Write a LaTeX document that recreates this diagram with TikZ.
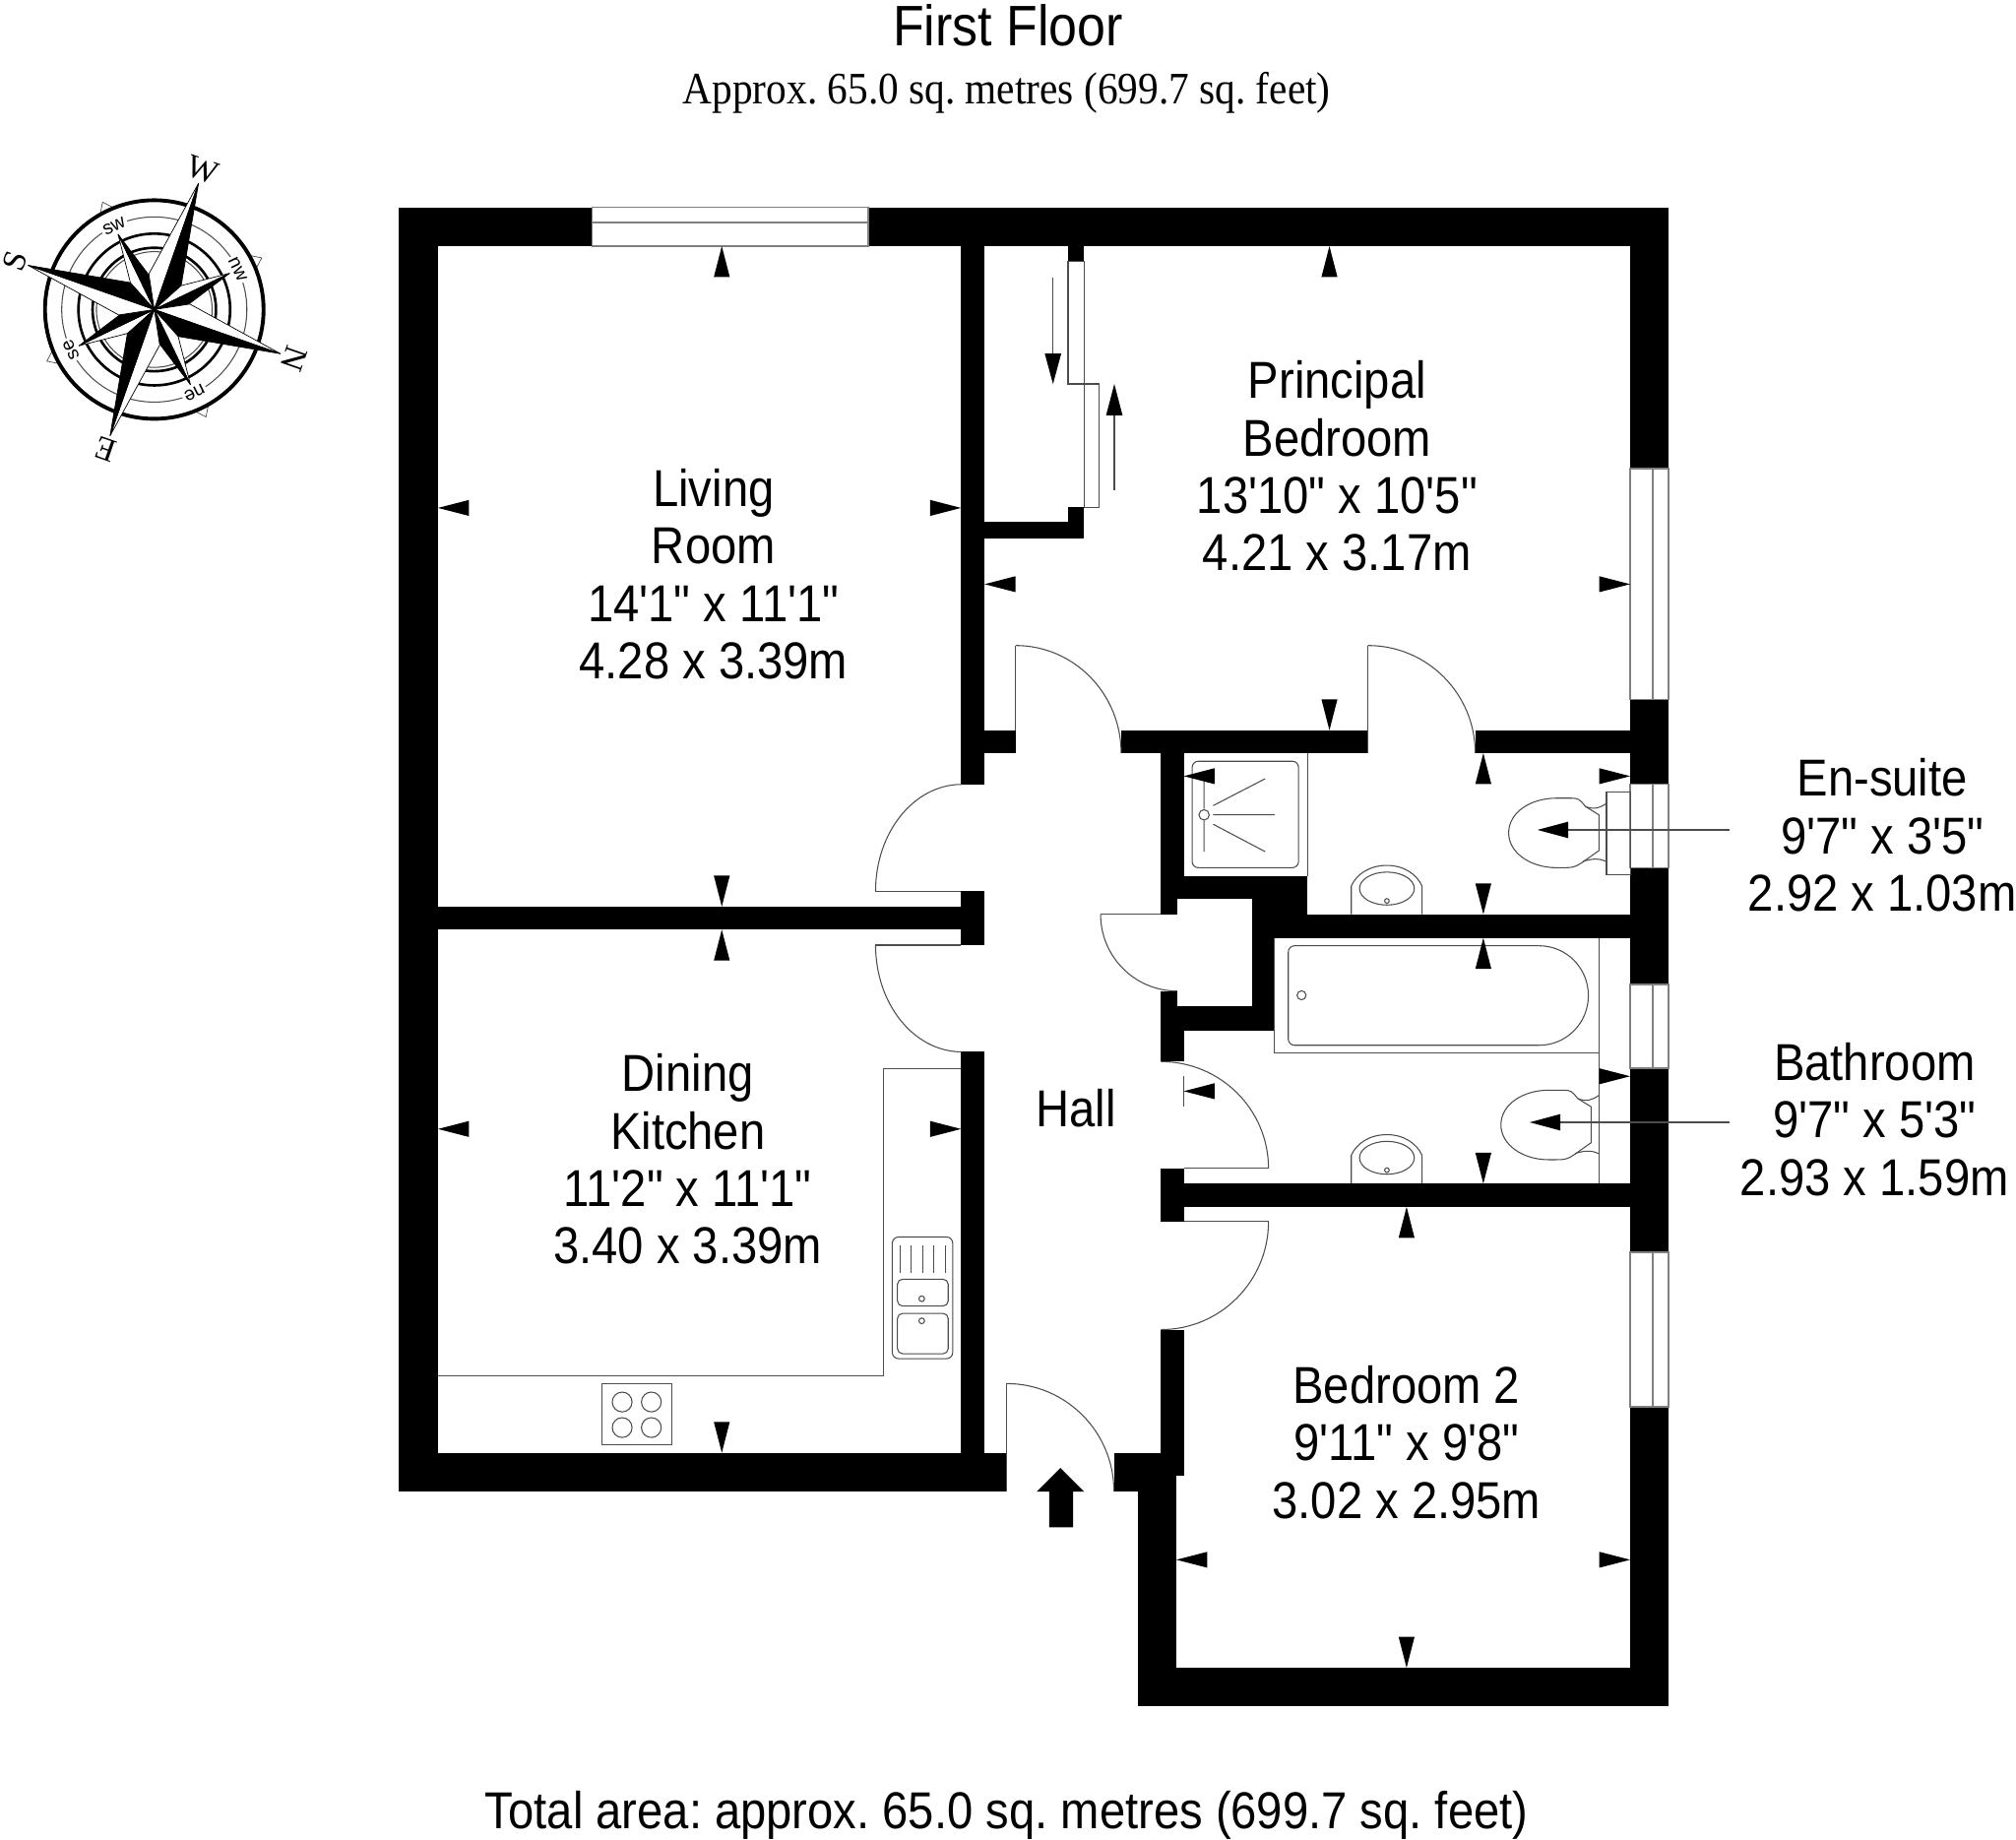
\documentclass[tikz,border=0pt]{standalone}
\usepackage{fontspec}
\newfontfamily\labelfont[FakeStretch=0.895]{Liberation Sans}
\newfontfamily\subfont[FakeStretch=0.905]{Liberation Serif}
\newfontfamily\rosefont{Liberation Serif}
\newfontfamily\rosesmall{Liberation Sans}
\usetikzlibrary{calc}
\tikzset{%
	wall/.style={fill=black},
	thinline/.style={draw=black!70, line width=0.3pt},
	window/.style={draw=black!50, fill=white, line width=0.4pt},
	roomlabel/.style={align=center, inner sep=0pt, font=\frenchspacing\labelfont\fontsize{15}{16.6}\selectfont},
}

\begin{document}
\begin{tikzpicture}[x=0.013061cm, y=-0.013061cm]
	\useasboundingbox (0,0) rectangle (1568,1430.9);

	% Walls
	\foreach \xa/\ya/\xb/\yb in {310/161.3/460.4/191.4, 675.3/161.3/1297.8/191.4, 310/161.3/340.7/1159.9,
		310/1129.8/783/1159.9, 1267.9/161.3/1297.8/364.4, 1267.9/544.1/1297.8/610, 1267.9/675/1297.8/765.6,
		1267.9/830.7/1297.8/974, 1267.9/1094/1297.8/1327, 884.8/1297/1297.8/1327, 884.8/1147.7/915/1327,
		866.4/1129.8/920.8/1147.7, 866.4/1147.7/915/1159.9, 902.4/1034/920.8/1147.7, 902.4/908.6/920.7/950,
		902.4/920.5/1267.9/938.6, 902.4/585.7/920.7/681.4, 902.4/681.4/1017/699, 974/699/1017/711,
		902.4/699/915.5/711, 974/711/1267.9/729.4, 974/729.4/990.9/801.4, 902.4/782.7/990.9/801.4,
		902.4/770.7/915.5/782.7, 902.4/801.4/920.7/825.6, 747.5/567.9/790/585.7, 872/567.9/1063.9/585.7,
		1147.4/567.9/1267.9/585.7, 747.5/191/765.8/610, 747.5/693/765.8/735, 747.5/818/765.8/1130,
		340.7/705/747.5/723, 765/405.8/843/418.6, 830.7/394.5/843/418.6, 830.7/191/843/203}
		\fill[wall] (\xa,\ya) rectangle (\xb,\yb);

	% Windows
	\draw[window] (460.4,161.3) rectangle (675.3,191.4) (460.4,173) -- (675.3,173);
	\foreach \ya/\yb in {364.4/544.1, 610/675, 765.6/830.7, 974/1094}
		\draw[window] (1267.9,\ya) rectangle (1297.8,\yb) (1285.5,\ya) -- (1285.5,\yb);

	% Doors
	\foreach \xa/\ya/\xc/\yc/\xb/\yb in {790/502/790/585.7/872/585.7, 1064/502/1064/585.7/1147.4/585.7,
		681/693/748/693/748/610, 681/735/748/735/748/818, 856/711/915.5/711/915.5/770.7,
		986.6/908.6/903/908.6/903/825.6, 986.6/950/903/950/903/1034, 783/1076/783/1159.9/866.4/1159.9}
		{\coordinate (s) at (\xa,\ya); \coordinate (k) at (\xc,\yc); \coordinate (e) at (\xb,\yb);
		\draw[thinline] (s) .. controls ($(s)+.5523*(e)-.5523*(k)$) and ($(e)+.5523*(s)-.5523*(k)$) .. (e);}
	\draw[thinline] (790,502) -- (790,567.9) (1064,502) -- (1064,585.7) (681,693) -- (747.5,693)
		(681,735) -- (747.5,735) (856,711) -- (902.4,711) (920.7,908.6) -- (986.6,908.6)
		(920.7,950) -- (986.6,950) (783,1076) -- (783,1159.9);

	% Sliding wardrobe doors
	\draw[thinline] (830.7,203) -- (830.7,298.6) -- (855,298.6) -- (855,394.5) -- (843,394.5);
	\draw[thinline] (843,203) -- (843,394.5) (830.7,203) -- (843,203);
	\draw[thinline] (819,215.6) -- (819,275);
	\fill (819,298.6) -- (812.6,275) -- (825.4,275) -- cycle;
	\draw[thinline] (866.7,381) -- (866.7,323);
	\fill (866.7,298.6) -- (860.3,323) -- (873.1,323) -- cycle;

	% Kitchen
	\draw[thinline] (747.5,831) -- (687,831) -- (687,1070.1) -- (340.7,1070.1);
	\draw[thinline, rounded corners=1.8pt] (694,962) rectangle (741,1056.6);
	\draw[thinline, rounded corners=1.5pt] (698,994.8) rectangle (737.5,1015.7);
	\draw[thinline, rounded corners=1.5pt] (698,1021.4) rectangle (737.5,1052.8);
	\foreach \x in {700,708.5,717.6,726,735.5}
		\draw[thinline] (\x,968.3) -- (\x,989.7);
	\draw[thinline] (716.9,1010) circle[radius=2.2] (716.9,1027.2) circle[radius=2.2];
	\draw[thinline] (468.3,1076.2) rectangle (522.4,1123.5);
	\foreach \x/\y in {483.9/1090.3, 506.6/1090.3, 483.9/1110.2, 506.6/1110.2}
		\draw[thinline] (\x,\y) circle[radius=7.7];

	% Shower
	\draw[thinline] (1017,585.7) -- (1017,681.4);
	\draw[thinline, rounded corners=1.8pt] (927.2,592) rectangle (1010,674.8);
	\draw[thinline] (936.5,633.7) circle[radius=4];
	\draw[thinline] (936.5,604) -- (936.5,629) (936.5,638) -- (936.5,662.3) (943.6,633.7) -- (991.5,633.7)
		(943.6,626.5) -- (984,605.6) (943.6,641) -- (984,662.3);

	% Bath
	\draw[thinline] (990.9,729.4) -- (990.9,818.6) -- (1243.6,818.6) (1243.6,729.4) -- (1243.6,920.5);
	\draw[thinline, rounded corners=1.8pt] (1197,735.5) -- (1002,735.5) -- (1002,812.9) -- (1197,812.9);
	\draw[thinline] (1197,735.5) .. controls (1218.4,735.5) and (1235.4,752.8) .. (1235.4,774.2)
		.. controls (1235.4,795.6) and (1218.4,812.9) .. (1197,812.9);
	\draw[thinline] (1012.3,774) circle[radius=3.5];

	% Basins
	\foreach \dy in {0,209.4} {
		\begin{scope}[shift={(0,\dy)}]
			\draw[thinline] (1051,711) -- (1051,689) .. controls (1055,680) and (1065,673) .. (1078.7,673)
				.. controls (1092,673) and (1102,680) .. (1106,689) -- (1106,711);
			\draw[thinline] (1078.7,691) ellipse[x radius=21.3, y radius=12.8];
			\draw[thinline] (1078.7,700.6) circle[radius=1.8];
		\end{scope}
	}

	% Toilets
	\draw[thinline] (1249.5,615.6) rectangle (1267.9,680);
	\foreach \dx/\dy in {0/0,-6/227.1} {
		\begin{scope}[shift={(\dx,\dy)}]
			\draw[thinline] (1243.6,633.7) -- (1243.6,661.5) -- (1229.9,671.2) .. controls (1224,674.8) .. (1210.8,674.8)
				.. controls (1190,674.8) and (1173.4,663) .. (1173.4,647.7) .. controls (1173.4,632) and (1190,620.7) .. (1210.8,620.7)
				-- (1222,620.7) .. controls (1228,621) .. (1233.3,627.3) -- cycle;
			\draw[thinline] (1233.3,627.3) .. controls (1240,630) and (1245,628) .. (1249.5,624.8);
			\draw[thinline] (1231,670) .. controls (1240,667) and (1245,668) .. (1249.5,670);
		\end{scope}
	}

	% Leaders to the small rooms
	\draw[thinline] (1345,645.4) -- (1219.7,645.4);
	\fill (1195.8,645.4) -- (1219.7,639) -- (1219.7,651.8) -- cycle;
	\draw[thinline] (1345,872.8) -- (1213.6,872.8);
	\fill (1189.8,872.8) -- (1213.6,866.4) -- (1213.6,879.2) -- cycle;
	\draw[thinline] (920.7,837) -- (920.7,860.8);

	% Dimension marks
	\foreach \x/\y/\dx/\dy in {561.4/191.4/0/1, 561.4/705/0/-1, 340.7/395/1/0, 747.5/395/-1/0,
		561.4/723/0/1, 561.4/1129.8/0/-1, 340.7/878/1/0, 747.5/878/-1/0,
		1034/191.4/0/1, 1034/567.9/0/-1, 765.8/454.3/1/0, 1267.9/454.3/-1/0,
		920.7/603.6/1/0, 1267.9/603.6/-1/0, 1153.7/585.7/0/1, 1153.7/711/0/-1,
		1153.7/729.4/0/1, 1153.7/920.5/0/-1, 920.7/848.6/1/0, 1267.9/837/-1/0,
		1094/938.6/0/1, 1094/1297/0/-1, 915/1213/1/0, 1267.9/1213/-1/0}
		\fill (\x,\y) -- ({\x+24*\dx-6.2*\dy},{\y+24*\dy-6.2*\dx}) -- ({\x+24*\dx+6.2*\dy},{\y+24*\dy+6.2*\dx}) -- cycle;

	% Entrance arrow
	\fill (824.8,1141.6) -- (843.2,1160) -- (834.6,1160) -- (834.6,1187.7) -- (816,1187.7) -- (816,1160) -- (806.4,1160) -- cycle;

	% Labels
	\node[roomlabel] (title) at (784,19.5) {\fontsize{16.5}{18}\selectfont First Floor};
	\node[roomlabel] (subtitle) at (783,72) {\subfont\fontsize{13}{15}\selectfont Approx. 65.0 sq. metres (699.7 sq. feet)};
	\node[roomlabel] (living) at (555,446.5) {Living\\Room\\14'1" x 11'1"\\4.28 x 3.39m};
	\node[roomlabel] (principal) at (1040,362.5) {Principal\\Bedroom\\13'10" x 10'5"\\4.21 x 3.17m};
	\node[roomlabel] (dining) at (535,901.5) {Dining\\Kitchen\\11'2" x 11'1"\\3.40 x 3.39m};
	\node[roomlabel] (hall) at (837,862) {Hall};
	\node[roomlabel] (ensuite) at (1464,649.5) {En-suite\\9'7" x 3'5"\\2.92 x 1.03m};
	\node[roomlabel] (bathroom) at (1458,870.5) {Bathroom\\9'7" x 5'3"\\2.93 x 1.59m};
	\node[roomlabel] (bedtwo) at (1094,1121.5) {Bedroom 2\\9'11" x 9'8"\\3.02 x 2.95m};
	\node[roomlabel] (total) at (783,1412) {\fontsize{15}{16}\selectfont Total area: approx. 65.0 sq. metres (699.7 sq. feet)};

	% Compass
	\begin{scope}[shift={(120,240.7)}, x=0.013061cm, y=0.013061cm]
		\foreach \a in {25.7,-64.3,-154.3,115.7}
			\draw[thinline, line width=0.2pt] (\a+4:85) -- (\a:92.7) -- (\a-4:85);
		\draw[line width=1.1pt] (0,0) circle[radius=85];
		\draw[thinline] (0,0) circle[radius=72];
		\draw[line width=0.75pt] (0,0) circle[radius=59];
		\draw[line width=0.75pt] (0,0) circle[radius=48];
		\draw[thinline] (0,0) circle[radius=45];
		\foreach \a/\t in {115.7/sw,25.7/nw,-64.3/ne,-154.3/se}
			\node[fill=white, inner sep=0.6pt, rotate=\a-90, font=\rosesmall\fontsize{5.5}{6}\selectfont] (rose\t) at (\a:72) {\t};
		\foreach \a in {115.7,25.7,-64.3,-154.3} {
			\filldraw[draw=black, line width=0.2pt, fill=white] (0,0) -- (\a+17:27) -- (\a:65) -- cycle;
			\filldraw[draw=black, line width=0.2pt, fill=black] (0,0) -- (\a-17:27) -- (\a:65) -- cycle;
		}
		\foreach \a in {70.7,-19.3,-109.3,160.7} {
			\filldraw[draw=black, line width=0.2pt, fill=white] (0,0) -- (\a+28:28) -- (\a:104) -- cycle;
			\filldraw[draw=black, line width=0.2pt, fill=black] (0,0) -- (\a-29:28) -- (\a:104) -- cycle;
		}
		\foreach \a/\t in {70.7/W,-19.3/N,-109.3/E,160.7/S}
			\node[inner sep=0pt, rotate=\a-90, font=\rosefont\fontsize{9.5}{10}\selectfont] (rose\t) at (\a:115) {\t};
	\end{scope}
\end{tikzpicture}
\end{document}
